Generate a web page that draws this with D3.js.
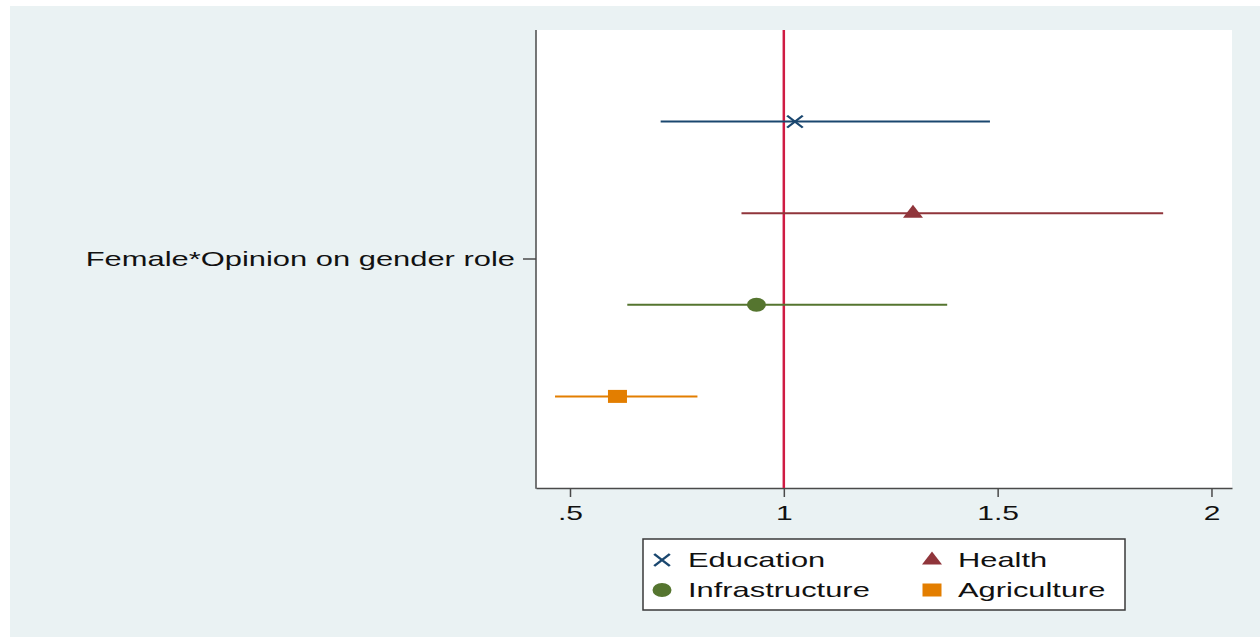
<!DOCTYPE html>
<html>
<head>
<meta charset="utf-8">
<script src="https://cdn.jsdelivr.net/npm/d3@7/dist/d3.min.js"></script>
<style>
  html, body { margin: 0; padding: 0; background: #ffffff; }
  svg { display: block; }
  text { font-family: "Liberation Sans", Arial, sans-serif; fill: #111; }
</style>
</head>
<body>
<svg id="chart" width="1260" height="637"></svg>
<script>
// Odds ratios with 95% confidence intervals, by sector
const sectors   = ["Education", "Health", "Infrastructure", "Agriculture"];
const estimates = [1.026, 1.302, 0.936, 0.611];
const ciLow     = [0.712, 0.901, 0.634, 0.465];
const ciHigh    = [1.482, 1.887, 1.382, 0.798];
const colors    = ["#1a476f", "#90353b", "#55752f", "#e37e00"];
const markers   = ["cross", "triangle", "circle", "square"];

const xTickValues = [0.5, 1, 1.5, 2];
const xTickLabels = [".5", "1", "1.5", "2"];
const yLabel = "Female*Opinion on gender role";
const refValue = 1;

// Text and markers are drawn with a horizontal stretch
const SX_AXIS = 1.5;
const SX_YLABEL = 1.545;
const SX_LEGEND = 1.47;

const svg = d3.select("#chart");

// Graph background
svg.append("rect").attr("x", 10).attr("y", 6).attr("width", 1250).attr("height", 631)
  .attr("fill", "#eaf2f3");

const plot = { left: 536, right: 1232, top: 30, bottom: 488 };

svg.append("rect")
  .attr("x", plot.left).attr("y", plot.top)
  .attr("width", plot.right - plot.left).attr("height", plot.bottom - plot.top)
  .attr("fill", "#ffffff");

const x = d3.scaleLinear().domain([0.4205, 2.048]).range([plot.left, plot.right]);
const y = d3.scalePoint().domain(sectors).range([plot.top, plot.bottom]).padding(1);

// X axis
const xAxis = d3.axisBottom(x)
  .tickValues(xTickValues)
  .tickFormat((d, i) => xTickLabels[i])
  .tickSize(9)
  .tickPadding(9)
  .tickSizeOuter(0);

const gx = svg.append("g").attr("transform", `translate(0,${plot.bottom})`).call(xAxis);
gx.select(".domain").attr("stroke", "#4a4a4a").attr("stroke-width", 1.5);
gx.selectAll(".tick line").attr("stroke", "#4a4a4a").attr("stroke-width", 1.5);
gx.selectAll(".tick text")
  .attr("font-size", 20)
  .attr("fill", "#111")
  .attr("font-family", "Liberation Sans, Arial, sans-serif")
  .attr("transform", `scale(${SX_AXIS},1)`);

// Y axis line and single centred tick
svg.append("line")
  .attr("x1", plot.left).attr("x2", plot.left)
  .attr("y1", plot.top).attr("y2", plot.bottom + 0.75)
  .attr("stroke", "#4a4a4a").attr("stroke-width", 1.5);

const yMid = (y(sectors[1]) + y(sectors[2])) / 2;
svg.append("line")
  .attr("x1", plot.left - 13).attr("x2", plot.left)
  .attr("y1", yMid).attr("y2", yMid)
  .attr("stroke", "#4a4a4a").attr("stroke-width", 1.5);

svg.append("text")
  .attr("transform", `translate(${plot.left - 21},${yMid}) scale(${SX_YLABEL},1)`)
  .attr("text-anchor", "end")
  .attr("dy", "0.35em")
  .attr("font-size", 20)
  .text(yLabel);

// Reference line at 1
svg.append("line")
  .attr("x1", x(refValue)).attr("x2", x(refValue))
  .attr("y1", plot.top).attr("y2", plot.bottom)
  .attr("stroke", "#cf1b43").attr("stroke-width", 2.5);

// Marker drawing
function drawMarker(g, type, cx, cy, color) {
  const m = g.append("g").attr("transform", `translate(${cx},${cy})`);
  if (type === "cross") {
    m.append("path")
      .attr("d", "M-6,-6L6,6M-6,6L6,-6")
      .attr("transform", "scale(1.3,1)")
      .attr("stroke", color).attr("stroke-width", 2).attr("fill", "none");
  } else if (type === "triangle") {
    m.append("path")
      .attr("d", "M0,-8.5L10,4.5L-10,4.5Z")
      .attr("fill", color);
  } else if (type === "circle") {
    m.append("ellipse").attr("rx", 9.5).attr("ry", 7).attr("fill", color);
  } else if (type === "square") {
    m.append("rect").attr("x", -9.5).attr("y", -6.5).attr("width", 19).attr("height", 13)
      .attr("fill", color);
  }
}

// Confidence intervals and point estimates
const marks = svg.append("g");
sectors.forEach((s, i) => {
  marks.append("line")
    .attr("x1", x(ciLow[i])).attr("x2", x(ciHigh[i]))
    .attr("y1", y(s)).attr("y2", y(s))
    .attr("stroke", colors[i]).attr("stroke-width", 2);
});
sectors.forEach((s, i) => {
  drawMarker(marks, markers[i], x(estimates[i]), y(s), colors[i]);
});

// Legend
const legend = { x: 643, y: 539, w: 482, h: 71 };
svg.append("rect")
  .attr("x", legend.x).attr("y", legend.y).attr("width", legend.w).attr("height", legend.h)
  .attr("fill", "#ffffff").attr("stroke", "#3a3a3a").attr("stroke-width", 1.5);

const legCols = [legend.x + 19, legend.x + 289];
const legRows = [legend.y + 21, legend.y + 51];
sectors.forEach((s, i) => {
  const cx = legCols[i % 2];
  const cy = legRows[Math.floor(i / 2)];
  drawMarker(svg, markers[i], cx, cy, colors[i]);
  svg.append("text")
    .attr("transform", `translate(${cx + 26},${cy}) scale(${SX_LEGEND},1)`)
    .attr("dy", "0.35em")
    .attr("font-size", 21)
    .text(s);
});
</script>
</body>
</html>
